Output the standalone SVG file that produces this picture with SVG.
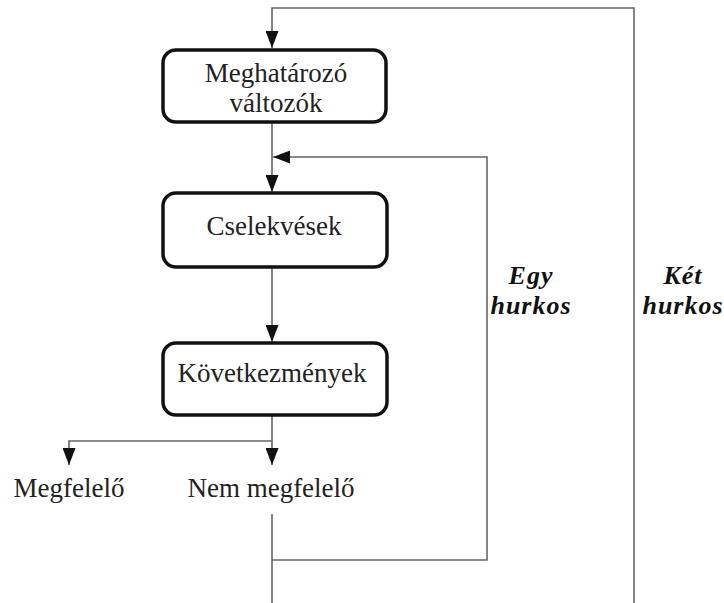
<svg xmlns="http://www.w3.org/2000/svg" width="724" height="603" viewBox="0 0 724 603">
<style>
.box{fill:#fff;stroke:#111;stroke-width:3.5}
.lbl{font-family:"Liberation Serif","Times New Roman",serif;font-size:27px;fill:#222;text-anchor:middle}
.loop{font-family:"Liberation Serif","Times New Roman",serif;font-size:26px;font-weight:bold;font-style:italic;fill:#111;text-anchor:middle;letter-spacing:1px}
.con{fill:none;stroke:#666;stroke-width:1.6}
</style>
<defs>
<marker id="ah" markerWidth="17" markerHeight="13" refX="17" refY="6.5" viewBox="0 0 17 13" orient="auto" markerUnits="userSpaceOnUse">
<path d="M0,0 L17,6.5 L0,13 Z" fill="#111"/>
</marker>
</defs>
<g id="connectors">
<path class="con" d="M272,122 V192" marker-end="url(#ah)"/>
<path class="con" d="M272,267 V342" marker-end="url(#ah)"/>
<path class="con" d="M272,415 V441 H69 V465" marker-end="url(#ah)"/>
<path class="con" d="M272,441 V465" marker-end="url(#ah)"/>
<path class="con" d="M272,514 V603"/>
<path class="con" d="M272,560 H487 V157 H273" marker-end="url(#ah)"/>
<path class="con" d="M634,603 V8 H272 V48" marker-end="url(#ah)"/>
</g>
<g id="n1">
<rect class="box" x="163" y="50" width="223" height="72" rx="13"/>
<text class="lbl" x="276" y="82">Meghatározó</text>
<text class="lbl" x="276" y="112">változók</text>
</g>
<g id="n2">
<rect class="box" x="163" y="193" width="224" height="74" rx="13"/>
<text class="lbl" x="274" y="235">Cselekvések</text>
</g>
<g id="n3">
<rect class="box" x="163" y="343" width="224" height="72" rx="13"/>
<text class="lbl" x="272" y="382">Következmények</text>
</g>
<g id="n4">
<text class="lbl" x="69" y="497">Megfelelő</text>
</g>
<g id="n5">
<text class="lbl" x="271" y="497">Nem megfelelő</text>
</g>
<g id="l1">
<text class="loop" x="531" y="284">Egy</text>
<text class="loop" x="531" y="314">hurkos</text>
</g>
<g id="l2">
<text class="loop" x="683" y="284">Két</text>
<text class="loop" x="683" y="314">hurkos</text>
</g>
</svg>
